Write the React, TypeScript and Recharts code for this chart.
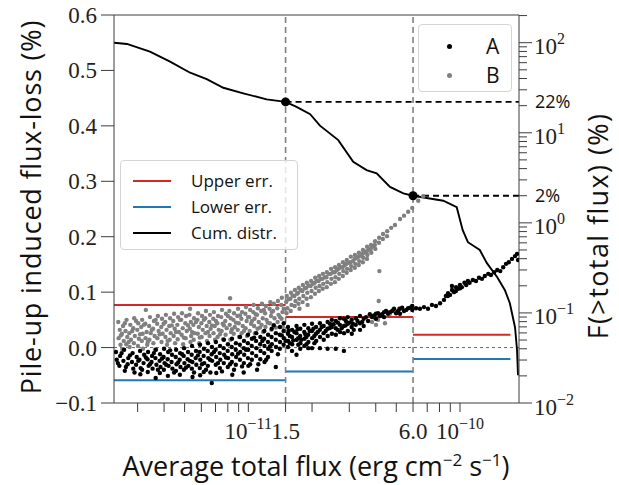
import React from 'react';
import { ComposedChart, Scatter, Line, XAxis, YAxis, ReferenceLine, ReferenceDot } from 'recharts';

// flux in units of 1e-11 erg cm^-2 s^-1, flux-loss in %
const seriesB: [number, number][] = [
  [0.243, 0.046], [0.247, 0.032], [0.244, 0.017], [0.249, 0.005],
  [0.256, 0.039], [0.253, 0.025], [0.258, 0.012], [0.254, -0.003],
  [0.266, 0.050], [0.263, 0.030], [0.268, 0.019], [0.265, 0.006],
  [0.277, 0.041], [0.274, 0.026], [0.279, 0.014], [0.275, 0.001],
  [0.289, 0.053], [0.286, 0.035], [0.291, 0.021], [0.288, 0.008],
  [0.302, 0.044], [0.299, 0.032], [0.304, 0.016], [0.301, 0.003],
  [0.315, 0.050], [0.312, 0.037], [0.317, 0.025], [0.314, 0.012], [0.318, -0.002],
  [0.328, 0.068], [0.326, 0.043], [0.331, 0.028], [0.327, 0.017], [0.333, 0.005],
  [0.343, 0.055], [0.340, 0.039], [0.346, 0.026], [0.341, 0.014],
  [0.358, 0.048], [0.355, 0.034], [0.361, 0.021], [0.356, 0.008], [0.362, -0.004],
  [0.374, 0.057], [0.371, 0.043], [0.377, 0.030], [0.372, 0.017],
  [0.391, 0.052], [0.388, 0.037], [0.394, 0.025], [0.389, 0.010],
  [0.408, 0.059], [0.405, 0.046], [0.411, 0.032], [0.406, 0.019], [0.413, 0.005],
  [0.427, 0.053], [0.423, 0.039], [0.430, 0.026], [0.425, 0.014],
  [0.446, 0.061], [0.442, 0.048], [0.449, 0.034], [0.444, 0.021], [0.451, 0.008],
  [0.466, 0.055], [0.462, 0.041], [0.470, 0.028], [0.464, 0.015],
  [0.486, 0.062], [0.482, 0.050], [0.490, 0.035], [0.484, 0.023], [0.492, 0.006],
  [0.508, 0.057], [0.504, 0.044], [0.512, 0.030], [0.506, 0.017],
  [0.531, 0.070], [0.527, 0.059], [0.535, 0.046], [0.529, 0.034], [0.537, 0.021], [0.533, 0.010],
  [0.554, 0.053], [0.550, 0.041], [0.558, 0.026], [0.552, 0.014],
  [0.579, 0.062], [0.575, 0.050], [0.584, 0.037], [0.577, 0.025], [0.586, 0.008],
  [0.604, 0.057], [0.600, 0.044], [0.609, 0.032], [0.602, 0.019],
  [0.631, 0.066], [0.626, 0.053], [0.636, 0.039], [0.628, 0.026], [0.638, 0.012],
  [0.659, 0.059], [0.654, 0.046], [0.664, 0.034], [0.656, 0.021],
  [0.688, 0.064], [0.683, 0.052], [0.694, 0.039], [0.685, 0.026], [0.696, 0.014],
  [0.719, 0.057], [0.714, 0.044], [0.725, 0.032], [0.716, 0.019],
  [0.751, 0.068], [0.745, 0.055], [0.757, 0.043], [0.748, 0.030], [0.760, 0.015],
  [0.784, 0.061], [0.778, 0.048], [0.791, 0.035], [0.781, 0.023],
  [0.820, 0.089], [0.814, 0.066], [0.826, 0.053], [0.817, 0.041], [0.829, 0.028], [0.822, 0.014],
  [0.856, 0.062], [0.850, 0.050], [0.863, 0.037], [0.853, 0.025],
  [0.894, 0.070], [0.888, 0.057], [0.901, 0.044], [0.891, 0.032], [0.904, 0.019],
  [0.934, 0.064], [0.927, 0.052], [0.941, 0.039], [0.930, 0.026],
  [0.975, 0.073], [0.968, 0.061], [0.982, 0.048], [0.971, 0.035], [0.986, 0.021],
  [1.02, 0.068], [1.01, 0.055], [1.03, 0.043], [1.015, 0.030],
  [1.06, 0.077], [1.055, 0.064], [1.07, 0.052], [1.065, 0.039], [1.075, 0.026],
  [1.11, 0.071], [1.10, 0.059], [1.12, 0.046], [1.105, 0.034],
  [1.16, 0.079], [1.15, 0.066], [1.17, 0.053], [1.155, 0.041], [1.175, 0.028],
  [1.21, 0.075], [1.20, 0.062], [1.22, 0.050], [1.205, 0.037],
  [1.27, 0.082], [1.26, 0.070], [1.28, 0.057], [1.265, 0.044], [1.285, 0.032],
  [1.32, 0.079], [1.31, 0.066], [1.33, 0.053], [1.315, 0.041],
  [1.38, 0.084], [1.37, 0.071], [1.39, 0.059], [1.375, 0.046],
  [1.44, 0.090], [1.43, 0.077], [1.45, 0.064], [1.435, 0.052], [1.455, 0.037],
  [0.250, 0.022], [0.261, 0.044], [0.272, 0.010], [0.283, 0.030], [0.295, 0.048], [0.308, 0.024],
  [0.321, 0.041], [0.335, 0.010], [0.350, 0.032], [0.365, 0.050], [0.381, 0.024], [0.398, 0.043],
  [0.416, 0.012], [0.435, 0.040], [0.455, 0.028], [0.475, 0.050], [0.496, 0.018], [0.519, 0.040],
  [0.542, 0.028], [0.566, 0.046], [0.590, 0.018], [0.617, 0.050], [0.645, 0.028], [0.673, 0.040],
  [0.703, 0.048], [0.735, 0.024], [0.767, 0.040], [0.801, 0.057], [0.837, 0.033], [0.874, 0.045],
  [0.914, 0.058], [0.954, 0.030], [0.997, 0.055], [1.04, 0.048], [1.085, 0.060], [1.135, 0.036],
  [1.185, 0.068], [1.235, 0.045], [1.29, 0.064], [1.35, 0.036], [1.41, 0.055], [1.47, 0.070],
  [1.52, 0.093], [1.51, 0.082], [1.53, 0.071], [1.515, 0.062],
  [1.59, 0.099], [1.58, 0.088], [1.60, 0.077], [1.585, 0.066],
  [1.66, 0.104], [1.65, 0.093], [1.67, 0.084], [1.655, 0.075],
  [1.73, 0.108], [1.72, 0.099], [1.74, 0.088], [1.725, 0.079], [1.745, 0.070],
  [1.81, 0.113], [1.80, 0.102], [1.82, 0.093], [1.805, 0.082],
  [1.89, 0.117], [1.88, 0.108], [1.90, 0.099], [1.885, 0.088], [1.905, 0.077],
  [1.98, 0.120], [1.97, 0.111], [1.99, 0.102], [1.975, 0.091],
  [2.07, 0.126], [2.06, 0.117], [2.08, 0.108], [2.065, 0.097],
  [2.16, 0.129], [2.15, 0.120], [2.17, 0.111], [2.155, 0.102],
  [2.25, 0.133], [2.24, 0.124], [2.26, 0.115], [2.245, 0.106],
  [2.35, 0.136], [2.34, 0.127], [2.36, 0.118], [2.345, 0.109],
  [2.46, 0.142], [2.45, 0.133], [2.47, 0.124], [2.455, 0.115],
  [2.57, 0.145], [2.56, 0.136], [2.58, 0.127], [2.565, 0.118],
  [2.68, 0.149], [2.67, 0.142], [2.69, 0.133], [2.675, 0.124],
  [2.80, 0.154], [2.79, 0.145], [2.81, 0.138], [2.795, 0.129],
  [2.92, 0.158], [2.91, 0.151], [2.93, 0.142], [2.915, 0.135],
  [3.05, 0.164], [3.04, 0.154], [3.06, 0.147], [3.045, 0.140],
  [3.19, 0.167], [3.18, 0.160], [3.20, 0.151], [3.185, 0.144],
  [3.33, 0.171], [3.32, 0.164], [3.34, 0.156], [3.325, 0.149],
  [3.48, 0.176], [3.47, 0.169], [3.49, 0.162], [3.475, 0.154],
  [3.64, 0.182], [3.63, 0.174], [3.65, 0.167], [3.635, 0.160],
  [3.80, 0.185], [3.79, 0.178], [3.81, 0.171],
  [3.97, 0.192], [3.96, 0.185], [3.98, 0.178],
  [4.15, 0.198], [4.14, 0.189], [4.16, 0.138], [4.13, 0.084],
  [4.33, 0.205], [4.32, 0.196], [4.53, 0.210], [4.52, 0.201],
  [4.73, 0.216], [4.93, 0.221], [5.21, 0.232], [5.44, 0.238],
  [5.69, 0.245], [5.95, 0.252], [6.35, 0.265], [6.70, 0.273],
  [1.55, 0.087], [1.62, 0.094], [1.70, 0.097], [1.77, 0.104], [1.85, 0.107], [1.93, 0.112],
  [2.02, 0.115], [2.11, 0.121], [2.20, 0.124], [2.30, 0.127], [2.40, 0.133], [2.51, 0.136],
  [2.62, 0.140], [2.74, 0.145], [2.86, 0.149], [2.98, 0.153], [3.12, 0.156], [3.26, 0.162],
  [3.40, 0.166], [3.56, 0.172], [3.72, 0.177], [3.88, 0.183],
  [3.84, 0.046], [3.97, 0.053], [4.10, 0.050], [4.24, 0.059], [4.38, 0.055], [4.53, 0.064],
  [4.67, 0.061], [4.83, 0.068], [4.99, 0.064], [5.15, 0.070], [4.01, 0.041], [4.42, 0.044],
];

const seriesA: [number, number][] = [
  [0.237, -0.008], [0.239, -0.022], [0.248, -0.015], [0.246, -0.033],
  [0.259, -0.004], [0.257, -0.024], [0.261, -0.042], [0.271, -0.019], [0.269, -0.030],
  [0.284, -0.010], [0.282, -0.026], [0.286, -0.038], [0.297, -0.017], [0.295, -0.031],
  [0.308, -0.006], [0.306, -0.022], [0.310, -0.037], [0.309, -0.048],
  [0.322, -0.013], [0.320, -0.028], [0.336, -0.008], [0.334, -0.021], [0.338, -0.033], [0.335, -0.044],
  [0.351, -0.015], [0.349, -0.026], [0.353, -0.038],
  [0.366, -0.004], [0.364, -0.019], [0.368, -0.031], [0.365, -0.055],
  [0.383, -0.012], [0.381, -0.024], [0.385, -0.035], [0.382, -0.046],
  [0.400, -0.002], [0.398, -0.017], [0.402, -0.028], [0.399, -0.040],
  [0.418, -0.008], [0.416, -0.021], [0.420, -0.033], [0.417, -0.051],
  [0.436, -0.013], [0.434, -0.026], [0.438, -0.038],
  [0.456, -0.004], [0.454, -0.017], [0.458, -0.030], [0.455, -0.042],
  [0.476, -0.010], [0.474, -0.022], [0.478, -0.035], [0.475, -0.049],
  [0.497, -0.001], [0.495, -0.015], [0.499, -0.028], [0.496, -0.040],
  [0.519, -0.008], [0.517, -0.021], [0.521, -0.033],
  [0.542, 0.003], [0.540, -0.013], [0.544, -0.026], [0.541, -0.038], [0.545, -0.053],
  [0.566, -0.006], [0.564, -0.019], [0.568, -0.031],
  [0.591, 0.005], [0.589, -0.008], [0.593, -0.022], [0.590, -0.037],
  [0.617, -0.002], [0.615, -0.015], [0.619, -0.028], [0.616, -0.044],
  [0.645, 0.008], [0.643, -0.006], [0.647, -0.019], [0.644, -0.033],
  [0.673, 0.001], [0.671, -0.012], [0.675, -0.024], [0.672, -0.064],
  [0.703, 0.010], [0.701, -0.004], [0.705, -0.017], [0.702, -0.031], [0.706, -0.046],
  [0.735, 0.003], [0.733, -0.010], [0.737, -0.022], [0.734, -0.037],
  [0.767, 0.014], [0.765, -0.001], [0.769, -0.013], [0.766, -0.028],
  [0.801, 0.006], [0.799, -0.006], [0.803, -0.019], [0.800, -0.035],
  [0.837, 0.016], [0.835, 0.001], [0.839, -0.012], [0.836, -0.026], [0.840, -0.049],
  [0.874, 0.008], [0.872, -0.004], [0.876, -0.017], [0.873, -0.031],
  [0.914, 0.019], [0.912, 0.005], [0.916, -0.008], [0.913, -0.022],
  [0.954, 0.012], [0.952, -0.001], [0.956, -0.013], [0.953, -0.028],
  [0.997, 0.023], [0.995, 0.008], [0.999, -0.004], [0.996, -0.019], [1.00, -0.033],
  [1.04, 0.016], [1.038, 0.003], [1.042, -0.010], [1.039, -0.022],
  [1.09, 0.026], [1.088, 0.012], [1.092, -0.001], [1.089, -0.015],
  [1.14, 0.019], [1.138, 0.006], [1.142, -0.006], [1.139, -0.021],
  [1.19, 0.030], [1.188, 0.016], [1.192, 0.003], [1.189, -0.010], [1.193, -0.026],
  [1.24, 0.023], [1.238, 0.010], [1.242, -0.002], [1.239, -0.017],
  [1.29, 0.034], [1.288, 0.019], [1.292, 0.006], [1.289, -0.006],
  [1.35, 0.026], [1.348, 0.014], [1.352, 0.001], [1.349, -0.035],
  [1.41, 0.037], [1.408, 0.023], [1.412, 0.010], [1.409, -0.002],
  [1.47, 0.044], [1.468, 0.030], [1.472, 0.017], [1.469, 0.005],
  [0.242, -0.028], [0.252, -0.010], [0.264, -0.035], [0.276, -0.014], [0.290, -0.045], [0.302, -0.024],
  [0.315, -0.040], [0.328, -0.018], [0.343, -0.030], [0.358, -0.010], [0.374, -0.040], [0.391, -0.020],
  [0.409, -0.031], [0.427, -0.005], [0.446, -0.045], [0.466, -0.027], [0.487, -0.012], [0.508, -0.036],
  [0.530, -0.024], [0.554, -0.045], [0.578, -0.014], [0.604, -0.030], [0.631, -0.040], [0.659, -0.022],
  [0.688, -0.008], [0.719, -0.028], [0.751, -0.043], [0.784, -0.018], [0.820, -0.030], [0.856, -0.040],
  [0.894, -0.011], [0.934, -0.034], [0.975, -0.004], [1.02, -0.030], [1.065, 0.018], [1.115, -0.030],
  [1.165, 0.012], [1.215, -0.022], [1.265, 0.002], [1.32, 0.040], [1.38, -0.012], [1.44, 0.022],
  [1.50, 0.012], [0.592, -0.050], [0.662, -0.045], [0.951, -0.045], [1.10, -0.040],
  [1.54, 0.037], [1.538, 0.025], [1.542, 0.012], [1.539, 0.001],
  [1.57, 0.021], [1.572, 0.008],
  [1.61, 0.032], [1.608, 0.019], [1.612, 0.006], [1.609, -0.006],
  [1.69, 0.039], [1.688, 0.026], [1.692, 0.014], [1.689, -0.013],
  [1.72, 0.017], [1.722, 0.005],
  [1.76, 0.034], [1.758, 0.021], [1.762, 0.008], [1.759, -0.002],
  [1.84, 0.041], [1.838, 0.028], [1.842, 0.016], [1.839, 0.003],
  [1.88, 0.019], [1.882, 0.006],
  [1.92, 0.035], [1.918, 0.023], [1.922, 0.010], [1.919, -0.001],
  [2.00, 0.043], [1.998, 0.030], [2.002, 0.017], [1.999, -0.001],
  [2.05, 0.021], [2.052, 0.008],
  [2.09, 0.037], [2.088, 0.025], [2.092, 0.012],
  [2.18, 0.044], [2.178, 0.032], [2.182, 0.019], [2.179, -0.001],
  [2.27, 0.039], [2.268, 0.026], [2.272, 0.014],
  [2.37, 0.046], [2.368, 0.034], [2.372, 0.021], [2.369, -0.002],
  [2.43, 0.043],
  [2.48, 0.050], [2.478, 0.037], [2.482, 0.025],
  [2.59, 0.048], [2.588, 0.035], [2.592, 0.023], [2.589, -0.002],
  [2.64, 0.032],
  [2.71, 0.053], [2.708, 0.041], [2.712, 0.028],
  [2.83, 0.052], [2.828, 0.039], [2.832, 0.026], [2.829, -0.006],
  [2.89, 0.048],
  [2.95, 0.055], [2.948, 0.043], [2.952, 0.030],
  [3.08, 0.050], [3.078, 0.037], [3.082, 0.025], [3.15, 0.032],
  [3.22, 0.053], [3.218, 0.041],
  [3.37, 0.057], [3.368, 0.044], [3.372, 0.032],
  [3.51, 0.052], [3.508, 0.039], [3.68, 0.048], [3.84, 0.055],
  [4.01, 0.061], [4.008, 0.052], [4.19, 0.057], [4.38, 0.064], [4.378, 0.055],
  [4.57, 0.061], [4.78, 0.066], [4.99, 0.062], [5.21, 0.070], [5.208, 0.061],
  [5.44, 0.066], [5.69, 0.071], [5.95, 0.068], [5.948, 0.075],
  [1.55, 0.030], [1.63, 0.013], [1.65, 0.028], [1.71, 0.033], [1.78, 0.014], [1.86, 0.024],
  [1.95, 0.030], [2.03, 0.034], [2.13, 0.028], [2.22, 0.037], [2.32, 0.030], [2.42, 0.035],
  [2.53, 0.042], [2.65, 0.045], [2.76, 0.035], [2.88, 0.040], [3.00, 0.045], [3.12, 0.043],
  [3.28, 0.048], [3.45, 0.046], [3.60, 0.055], [3.75, 0.060], [3.92, 0.058], [4.10, 0.062],
  [4.28, 0.060], [4.47, 0.066], [4.67, 0.064], [4.88, 0.070], [5.10, 0.066], [5.33, 0.072],
  [5.57, 0.068], [5.82, 0.072],
  [6.20, 0.071], [6.47, 0.070], [6.76, 0.073], [7.06, 0.070], [7.37, 0.077], [7.70, 0.075],
  [8.05, 0.080], [8.40, 0.086], [8.58, 0.093], [8.78, 0.098], [8.97, 0.095], [9.17, 0.104],
  [9.37, 0.100], [9.58, 0.109], [9.79, 0.106], [10.0, 0.113], [10.2, 0.109], [10.5, 0.117],
  [10.7, 0.113], [10.9, 0.120], [11.1, 0.117], [11.5, 0.122], [11.9, 0.120], [12.3, 0.126],
  [12.7, 0.124], [13.1, 0.129], [13.6, 0.133], [14.0, 0.131], [14.5, 0.136], [15.0, 0.140],
  [15.5, 0.138], [16.0, 0.145], [16.5, 0.151], [17.0, 0.154], [17.6, 0.160], [18.2, 0.165],
  [18.6, 0.169], [18.8, 0.158], [8.77, 0.093], [9.57, 0.102], [10.01, 0.107], [9.16, 0.111],
];

// cumulative distribution F(>total flux), %
const cumFlux = [0.232, 0.267, 0.343, 0.427, 0.531, 0.636, 0.762, 0.947, 1.22, 1.5, 1.69, 1.96, 2.18, 2.66, 3.13, 3.62, 4.04, 4.67, 5.4, 6.0, 8.34, 9.65, 10.3, 10.9, 12.4, 13.4, 15.0, 16.3, 17.2, 18.2, 18.6, 18.8];
const cumPct = [100, 96.8, 79.4, 61.5, 46.4, 39.5, 31.6, 27.4, 23.5, 22, 19.4, 16.1, 12.0, 8.29, 4.76, 3.85, 3.54, 2.51, 2.12, 2.0, 1.76, 1.49, 0.83, 0.61, 0.5, 0.357, 0.249, 0.179, 0.128, 0.069, 0.0385, 0.0203];

// flux bins and the error levels in each bin
const binEdges = [0.232, 1.5, 6.0, 17.3];
const upperErr = [0.077, 0.055, 0.023];
const lowerErr = [-0.059, -0.043, -0.0205];

const markFlux = [1.5, 6.0];
const markPct = [22, 2];

const xTicks = [0.3, 0.4, 0.5, 0.6, 0.7, 0.8, 0.9, 1, 1.5, 2, 3, 4, 5, 6, 7, 8, 9, 10];
const xLabels = [
  { v: 1, base: '10', sup: '−11' },
  { v: 1.5, base: '1.5', sup: '' },
  { v: 6, base: '6.0', sup: '' },
  { v: 10, base: '10', sup: '−10' },
];
const leftTicks = [-0.1, 0, 0.1, 0.2, 0.3, 0.4, 0.5, 0.6];
const rightDecades = [0.01, 0.1, 1, 10, 100];
const rightDecadeExp = ['−2', '−1', '0', '1', '2'];
const rightMinor = [0.02, 0.03, 0.04, 0.05, 0.06, 0.07, 0.08, 0.09, 0.2, 0.3, 0.4, 0.5, 0.6, 0.7, 0.8, 0.9,
  2, 3, 4, 5, 6, 7, 8, 9, 20, 30, 40, 50, 60, 70, 80, 90, 200];
const rightMarks = [{ v: 22, label: '22%' }, { v: 2, label: '2%' }];
const rightTicks = [...rightDecades, ...rightMinor, 22].sort((a, b) => a - b);

const AXIS = '#3c3c3c';
const SERIF = '"Liberation Serif", "DejaVu Serif", serif';
const SANS = '"Open Sans", Lato, "DejaVu Sans", sans-serif';
const RED = '#d62728';
const BLUE = '#1f77b4';

const near = (a: number, b: number) => Math.abs(a - b) < 1e-6 * Math.max(1, Math.abs(b));

const XTick = (props: any) => {
  const { x, y, payload } = props;
  const lab = xLabels.find((l) => near(l.v, payload.value));
  return (
    <g>
      <line x1={x} x2={x} y1={y} y2={y + 9} stroke={AXIS} strokeWidth={1} />
      {lab && (
        <text x={x} y={y + 36} textAnchor="middle" fontFamily={SERIF} fontSize={23} fill="#222">
          {lab.base}
          {lab.sup && <tspan dy={-10} fontSize={16}>{lab.sup}</tspan>}
        </text>
      )}
    </g>
  );
};

const LeftTick = (props: any) => {
  const { x, y, payload } = props;
  const txt = payload.value.toFixed(1).replace('-', '−');
  return (
    <g>
      <line x1={x} x2={x - 13} y1={y} y2={y} stroke={AXIS} strokeWidth={1} />
      <text x={x - 17} y={y} dy="0.35em" textAnchor="end" fontFamily={SERIF} fontSize={23} fill="#222">{txt}</text>
    </g>
  );
};

const RightTick = (props: any) => {
  const { x, y, payload } = props;
  const v = payload.value;
  const di = rightDecades.findIndex((d) => near(d, v));
  const mark = rightMarks.find((m) => near(m.v, v));
  const isMinor = rightMinor.some((m) => near(m, v));
  return (
    <g>
      {di >= 0 && <line x1={x} x2={x + 13} y1={y} y2={y} stroke={AXIS} strokeWidth={1} />}
      {isMinor && <line x1={x} x2={x + 8} y1={y} y2={y} stroke={AXIS} strokeWidth={1} />}
      {di >= 0 && (
        <text x={x + 15} y={y} dy="0.5em" fontFamily={SERIF} fontSize={23} fill="#222">
          10<tspan dy={-10} fontSize={16}>{rightDecadeExp[di]}</tspan>
        </text>
      )}
      {mark && (
        <text x={x + 16} y={y} dy="0.36em" fontFamily={SANS} fontSize={18} fill="#111">{mark.label}</text>
      )}
    </g>
  );
};

const dot = (color: string) => (p: any) => <circle cx={p.cx} cy={p.cy} r={2.2} fill={color} />;

export default function App() {
  const W = 619;
  const H = 485;
  const bPts = seriesB.map(([x, y]) => ({ x, y }));
  const aPts = seriesA.map(([x, y]) => ({ x, y }));
  const cum = cumFlux.map((x, i) => ({ x, y: cumPct[i] }));
  const segs = upperErr.map((_, i) => ({
    up: [{ x: binEdges[i], y: upperErr[i] }, { x: binEdges[i + 1], y: upperErr[i] }],
    lo: [{ x: binEdges[i], y: lowerErr[i] }, { x: binEdges[i + 1], y: lowerErr[i] }],
  }));
  const title = { position: 'absolute' as const, whiteSpace: 'nowrap' as const, fontFamily: SANS, fontSize: 27, color: '#111' };

  return (
    <div style={{ position: 'absolute', left: 0, top: 0, width: W, height: H }}>
      <ComposedChart width={W} height={H} margin={{ top: 15, right: 0, bottom: 0, left: 0 }}>
        <XAxis type="number" dataKey="x" scale="log" domain={[0.232, 19]} allowDataOverflow
          ticks={xTicks} interval={0} tick={<XTick />} tickLine={false} tickSize={0} tickMargin={0}
          height={82} axisLine={{ stroke: AXIS }} />
        <YAxis yAxisId="left" type="number" domain={[-0.1, 0.6]} allowDataOverflow ticks={leftTicks}
          interval={0} tick={<LeftTick />} tickLine={false} tickSize={0} tickMargin={0} width={114}
          axisLine={{ stroke: AXIS }} />
        <YAxis yAxisId="right" orientation="right" type="number" scale="log" domain={[0.01, 203]}
          allowDataOverflow ticks={rightTicks} interval={0} tick={<RightTick />} tickLine={false}
          tickSize={0} tickMargin={0} width={100} axisLine={{ stroke: AXIS }} />

        <ReferenceLine yAxisId="left" y={0.6} stroke={AXIS} />
        <ReferenceLine yAxisId="left" y={0} stroke="#555" strokeDasharray="3 3" strokeWidth={0.9} />

        {segs.map((s, i) => (
          <Line key={'u' + i} yAxisId="left" data={s.up} dataKey="y" stroke={RED} strokeWidth={2}
            dot={false} isAnimationActive={false} />
        ))}
        {segs.map((s, i) => (
          <Line key={'l' + i} yAxisId="left" data={s.lo} dataKey="y" stroke={BLUE} strokeWidth={2}
            dot={false} isAnimationActive={false} />
        ))}

        <Scatter yAxisId="left" data={bPts} dataKey="y" shape={dot('#808080')} isAnimationActive={false} />
        <Scatter yAxisId="left" data={aPts} dataKey="y" shape={dot('#000')} isAnimationActive={false} />

        {markFlux.map((f) => (
          <ReferenceLine key={'v' + f} yAxisId="left" x={f} stroke="#808080" strokeDasharray="6 4" strokeWidth={1.6} />
        ))}
        {markFlux.map((f, i) => (
          <Line key={'h' + f} yAxisId="right" data={[{ x: f, y: markPct[i] }, { x: 19, y: markPct[i] }]}
            dataKey="y" stroke="#000" strokeWidth={1.8} strokeDasharray="6 4" dot={false} isAnimationActive={false} />
        ))}

        <Line yAxisId="right" data={cum} dataKey="y" stroke="#000" strokeWidth={1.9} dot={false}
          type="linear" isAnimationActive={false} />

        {markFlux.map((f, i) => (
          <ReferenceDot key={'d' + f} yAxisId="right" x={f} y={markPct[i]} r={4.5} fill="#000" stroke="none" />
        ))}
      </ComposedChart>

      <div style={{ ...title, left: 30, top: 207, letterSpacing: 0.8, transform: 'translate(-50%, -50%) rotate(-90deg)' }}>
        Pile-up induced flux-loss (%)
      </div>
      <div style={{ ...title, left: 597, top: 226, letterSpacing: 1.4, transform: 'translate(-50%, -50%) rotate(-90deg)' }}>
        F(&gt;total flux) (%)
      </div>
      <div style={{ ...title, left: 316, top: 465, transform: 'translate(-50%, -50%)' }}>
        Average total flux (erg cm<sup style={{ fontSize: 17 }}>−2</sup> s<sup style={{ fontSize: 17 }}>−1</sup>)
      </div>

      <div style={{ position: 'absolute', left: 418, top: 24, width: 94, height: 68, boxSizing: 'border-box',
        border: '1px solid #d4d4d4', borderRadius: 4, background: 'rgba(255,255,255,0.8)', fontFamily: SANS, fontSize: 21, color: '#111' }}>
        {[{ name: 'A', c: '#000' }, { name: 'B', c: '#808080' }].map((e, i) => (
          <div key={e.name} style={{ position: 'absolute', left: 0, top: 21 + i * 29 - 12, height: 24, width: '100%' }}>
            <span style={{ position: 'absolute', left: 28, top: 10, width: 5, height: 5, borderRadius: 3, background: e.c }} />
            <span style={{ position: 'absolute', left: 67, top: 0, lineHeight: '24px' }}>{e.name}</span>
          </div>
        ))}
      </div>

      <div style={{ position: 'absolute', left: 120, top: 160, width: 178, height: 90, boxSizing: 'border-box',
        border: '1px solid #d4d4d4', borderRadius: 4, background: 'rgba(255,255,255,0.8)', fontFamily: SANS, fontSize: 17, color: '#111' }}>
        {[{ name: 'Upper err.', c: RED }, { name: 'Lower err.', c: BLUE }, { name: 'Cum. distr.', c: '#000' }].map((e, i) => (
          <div key={e.name} style={{ position: 'absolute', left: 0, top: 20 + i * 26 - 11, height: 22, width: '100%' }}>
            <span style={{ position: 'absolute', left: 12, top: 10, width: 38, height: 2, background: e.c }} />
            <span style={{ position: 'absolute', left: 70, top: 0, lineHeight: '22px' }}>{e.name}</span>
          </div>
        ))}
      </div>
    </div>
  );
}
